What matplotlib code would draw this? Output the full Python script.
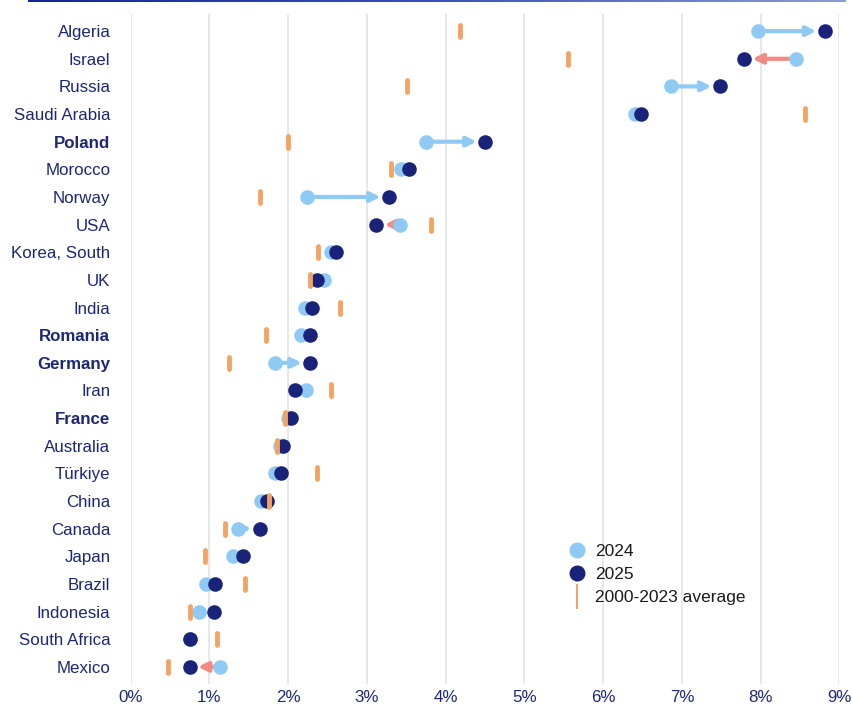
import numpy as np
import matplotlib.pyplot as plt
from matplotlib.lines import Line2D
from matplotlib.markers import MarkerStyle
from matplotlib.colors import LinearSegmentedColormap

plt.rcParams['font.family'] = ['Liberation Sans', 'DejaVu Sans']

countries = ["Algeria", "Israel", "Russia", "Saudi Arabia", "Poland", "Morocco", "Norway",
             "USA", "Korea, South", "UK", "India", "Romania", "Germany", "Iran", "France",
             "Australia", "Türkiye", "China", "Canada", "Japan", "Brazil", "Indonesia",
             "South Africa", "Mexico"]
bold = ["Poland", "Romania", "Germany", "France"]

v2024 = [7.96, 8.45, 6.86, 6.40, 3.75, 3.43, 2.24, 3.42, 2.55, 2.45, 2.22, 2.17, 1.84, 2.23,
         2.00, 1.90, 1.84, 1.66, 1.36, 1.30, 0.96, 0.87, 0.76, 1.14]
v2025 = [8.81, 7.79, 7.48, 6.48, 4.50, 3.54, 3.28, 3.12, 2.61, 2.37, 2.31, 2.28, 2.28, 2.09,
         2.04, 1.94, 1.91, 1.73, 1.64, 1.43, 1.07, 1.06, 0.75, 0.75]
avg = [4.18, 5.55, 3.51, 8.56, 2.00, 3.31, 1.65, 3.81, 2.38, 2.28, 2.66, 1.72, 1.25, 2.55,
       1.96, 1.86, 2.37, 1.76, 1.20, 0.95, 1.45, 0.76, 1.10, 0.48]
xticks = [0, 1, 2, 3, 4, 5, 6, 7, 8, 9]

LIGHT = "#8fcaf4"
NAVY = "#1a237a"
ORANGE = "#f4a462"
SALMON = "#f28b82"
TEXT = "#1c2775"

fig = plt.figure(figsize=(8.52, 7.06), dpi=100)
ax = fig.add_axes([130.5 / 852, 1 - 684 / 706, (839.5 - 130.5) / 852, 670 / 706])

y = np.arange(len(countries))

# arrows from 2024 to 2025
for i, (a, b) in enumerate(zip(v2024, v2025)):
    if abs(b - a) < 0.2:
        continue
    col = LIGHT if b > a else SALMON
    ax.annotate("", xy=(b, i), xytext=(a, i),
                arrowprops=dict(arrowstyle="-|>", color=col, lw=3, shrinkA=0, shrinkB=6,
                                mutation_scale=14), zorder=2)

ax.scatter(v2024, y, s=110, color=LIGHT, zorder=3, clip_on=False, linewidths=0)
ax.scatter(v2025, y, s=110, color=NAVY, zorder=4, clip_on=False, linewidths=0)
avg_marker = MarkerStyle("|", capstyle="round")
ax.plot(avg, y, linestyle="none", marker=avg_marker, ms=9, mew=3.5, color=ORANGE, zorder=5)

ax.set_xlim(0, 9)
ax.set_ylim(23.62, -0.62)
ax.set_xticks(xticks)
ax.set_xticklabels([f"{t}%" for t in xticks])
ax.set_yticks(y)
ax.set_yticklabels(countries)
for lab in ax.get_yticklabels():
    if lab.get_text() in bold:
        lab.set_fontweight("bold")
ax.tick_params(axis="both", length=0, labelsize=12.2, labelcolor=TEXT)
ax.tick_params(axis="y", pad=14.5)
ax.tick_params(axis="x", pad=4.5)
for s in ax.spines.values():
    s.set_visible(False)
ax.grid(axis="x", color="#e6e6e6", lw=1.3)
ax.set_axisbelow(True)

handles = [
    Line2D([], [], linestyle="none", marker="o", ms=10.5, color=LIGHT, label="2024"),
    Line2D([], [], linestyle="none", marker="o", ms=10.5, color=NAVY, label="2025"),
    Line2D([], [], linestyle="none", marker="|", ms=18, mew=1.5, color=ORANGE, label="2000-2023 average"),
]
leg = fig.legend(handles=handles, loc="upper left", bbox_to_anchor=(565 / 852, 1 - 544 / 706),
                 frameon=False, fontsize=12.5, handletextpad=0.35, labelspacing=0.45,
                 handlelength=1.4, borderaxespad=0, borderpad=0)
for t in leg.get_texts():
    t.set_color("#1a1a1a")

# gradient line at the top
gax = fig.add_axes([28 / 852, 1 - 2.5 / 706, 818 / 852, 2.5 / 706])
cmap = LinearSegmentedColormap.from_list("topline", ["#16239a", "#3d50b8", "#8e9ad6"])
gax.imshow(np.linspace(0, 1, 256)[None, :], aspect="auto", cmap=cmap)
gax.axis("off")

fig.savefig("out.png", dpi=100)
